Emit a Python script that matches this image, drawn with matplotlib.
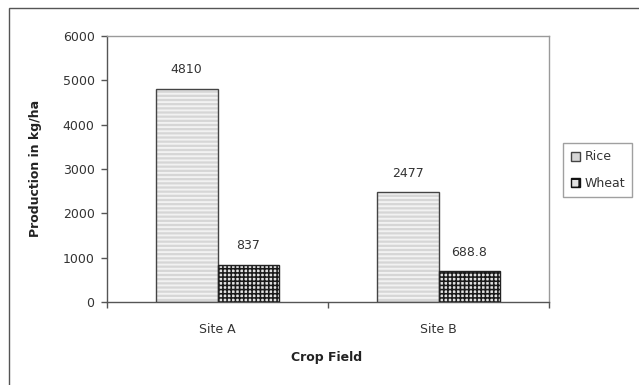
import matplotlib
matplotlib.use("Agg")
import matplotlib.pyplot as plt
from matplotlib.patches import Rectangle, Patch

plt.rcParams['font.family'] = ['DejaVu Sans']

sites = ["Site A", "Site B"]
rice = [4810, 2477]
wheat = [837, 688.8]
rice_labels = ["4810", "2477"]
wheat_labels = ["837", "688.8"]
yticks = [0, 1000, 2000, 3000, 4000, 5000, 6000]

W, H = 639, 385
fig = plt.figure(figsize=(W / 100, H / 100), dpi=100)
fig.patch.set_facecolor("white")

# outer chart-area border (runs off the right and bottom edges)
fig.add_artist(Rectangle((9 / W, -0.1), 1.2, 1 - 8 / H + 0.1, transform=fig.transFigure,
                         fill=False, edgecolor="#555555", linewidth=1.0))

ax = fig.add_axes([107 / W, 1 - 302 / H, (549 - 107) / W, (302 - 36) / H])
ax.set_xlim(-0.5, 1.5)
ax.set_ylim(0, 6000)

x = list(range(len(sites)))
bw = 0.28
txt = "#333333"
fs = 9

rice_face, rice_hatch = "#d6d6d6", "#f2f2f2"
wheat_face, wheat_hatch = "#e2e2e2", "#1a1a1a"

# rice: light grey with fine white horizontal dashes
plt.rcParams['hatch.linewidth'] = 1.4
xr = [i - bw / 2 for i in x]
ax.bar(xr, rice, width=bw, color=rice_face, edgecolor=rice_hatch, hatch="----", linewidth=0, zorder=2)
ax.bar(xr, rice, width=bw, fill=False, edgecolor="#444444", linewidth=1.0, zorder=3)

# wheat: dense dark checker grid
plt.rcParams['hatch.linewidth'] = 1.15
xw = [i + bw / 2 for i in x]
ax.bar(xw, wheat, width=bw, color=wheat_face, edgecolor=wheat_hatch, hatch="++++", linewidth=0, zorder=2)
ax.bar(xw, wheat, width=bw, fill=False, edgecolor="#222222", linewidth=1.0, zorder=3)

for xi, v, s in zip(xr, rice, rice_labels):
    ax.annotate(s, (xi, v), xytext=(0, 9), textcoords="offset points",
                ha="center", va="bottom", fontsize=fs, color=txt)
for xi, v, s in zip(xw, wheat, wheat_labels):
    ax.annotate(s, (xi, v), xytext=(0, 9), textcoords="offset points",
                ha="center", va="bottom", fontsize=fs, color=txt)

ax.set_yticks(yticks)
ax.set_yticklabels([str(t) for t in yticks])
ax.set_xticks(x)
ax.set_xticklabels(sites)
ax.set_xticks([-0.5, 0.5, 1.5], minor=True)
ax.tick_params(axis="y", direction="out", length=4, width=1, color="#555555",
               labelsize=fs, labelcolor=txt, pad=5)
ax.tick_params(axis="x", which="major", length=0, labelsize=fs, labelcolor=txt, pad=15)
ax.tick_params(axis="x", which="minor", direction="out", length=4, width=1, color="#555555")

for side in ("left", "bottom"):
    ax.spines[side].set_color("#555555")
    ax.spines[side].set_linewidth(1.0)
for side in ("top", "right"):
    ax.spines[side].set_color("#9a9a9a")
    ax.spines[side].set_linewidth(1.0)

fig.text(36 / W, 1 - 168 / H, "Production in kg/ha", rotation=90, ha="center", va="center",
         fontsize=fs, fontweight="bold", color="#222222")
fig.text(327 / W, 1 - 358 / H, "Crop Field", ha="center", va="center",
         fontsize=fs, fontweight="bold", color="#222222")

handles = [Patch(facecolor=rice_face, edgecolor="#444444", label="Rice"),
           Patch(facecolor=wheat_face, edgecolor="#111111", hatch="++", label="Wheat")]
leg = fig.legend(handles=handles, loc="upper left", bbox_to_anchor=(563 / W, 1 - 143 / H),
                 fontsize=fs, frameon=True, fancybox=False, handlelength=0.75, handleheight=0.75,
                 handletextpad=0.35, borderpad=0.6, borderaxespad=0, labelspacing=1.05)
leg.get_frame().set_edgecolor("#888888")
leg.get_frame().set_linewidth(1.0)
for t in leg.get_texts():
    t.set_color(txt)

fig.savefig("out.png", dpi=100)
